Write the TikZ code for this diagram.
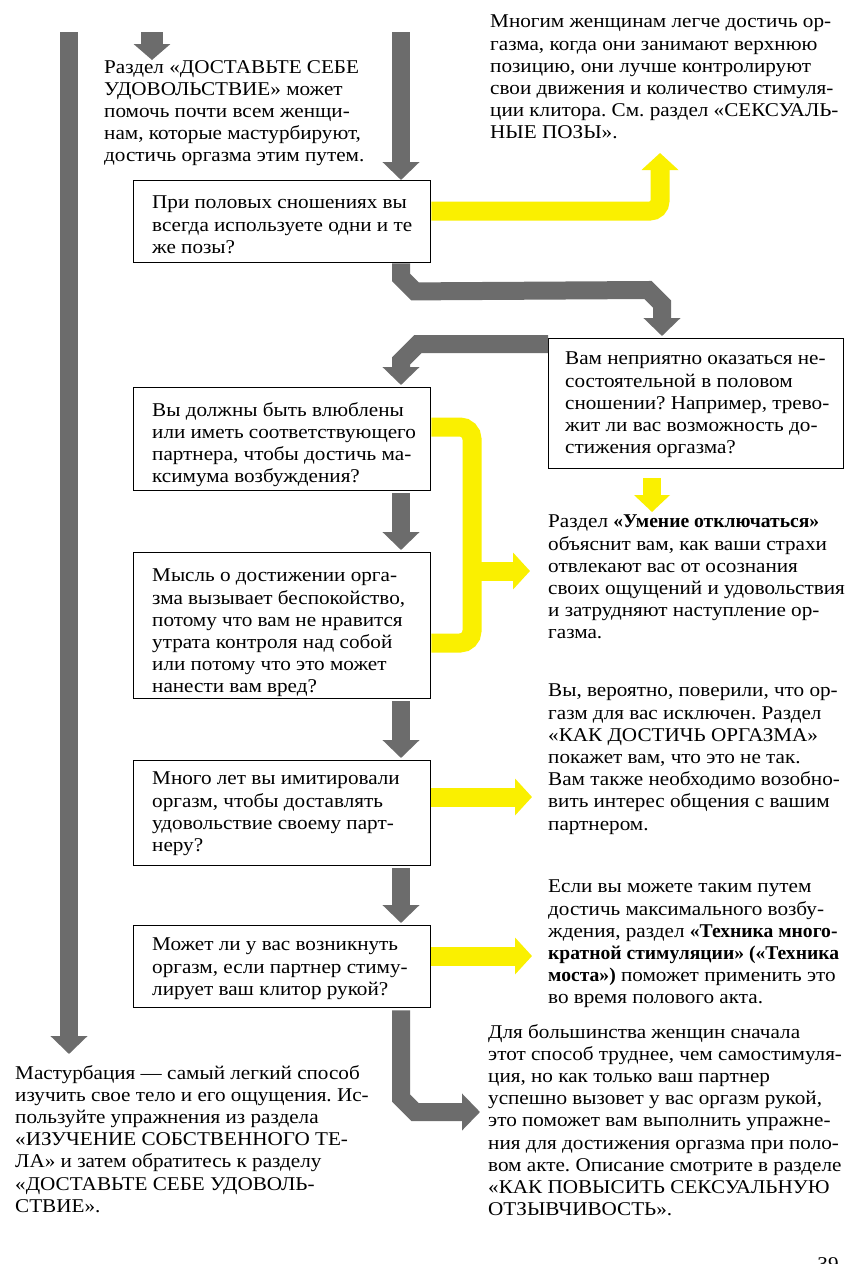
\documentclass[tikz,border=0pt]{standalone}
\usepackage{fontspec}
\setmainfont{Liberation Serif}[FakeStretch=1.085]
\newfontfamily\boldfam{Liberation Serif}[FakeStretch=1.005]
\newcommand\bt[1]{{\boldfam\bfseries #1}}
\usetikzlibrary{arrows.meta,calc}
\definecolor{arrgray}{RGB}{108,108,108}
\definecolor{ylw}{RGB}{250,240,0}
\frenchspacing
\begin{document}
\begin{tikzpicture}[x=1pt,y=-1pt,
  txt/.style={anchor=north west,inner sep=0pt,align=left,font=\fontsize{19.5}{22.2}\selectfont},
  qbox/.style={draw=black,line width=1.4pt,anchor=north west,inner sep=0pt},
  garr/.style={draw=arrgray,line width=18pt,line join=miter,-{Triangle[width=36pt,length=18pt]}},
  yarr/.style={draw=ylw,line width=19pt,rounded corners=10pt,-{Triangle[width=36pt,length=17pt]}},
  yband/.style={draw=ylw,line width=19pt,rounded corners=12pt}]
\useasboundingbox[fill=white] (0,0) rectangle (856,1264);

% boxes
\node[qbox,minimum width=297pt,minimum height=82pt] (b1) at (133,180) {};
\node[qbox,minimum width=295pt,minimum height=130pt] (b2) at (548,338) {};
\node[qbox,minimum width=297pt,minimum height=103pt] (b3) at (133,387) {};
\node[qbox,minimum width=297pt,minimum height=146pt] (b4) at (133,552) {};
\node[qbox,minimum width=297pt,minimum height=105pt] (b5) at (133,760) {};
\node[qbox,minimum width=297pt,minimum height=82pt] (b6) at (133,925) {};

% texts
\node[txt] (tl) at (104,60) {Раздел «ДОСТАВЬТЕ СЕБЕ\\УДОВОЛЬСТВИЕ» может\\помочь почти всем женщи-\\нам, которые мастурбируют,\\достичь оргазма этим путем.};
\node[txt] (tr) at (490,15) {Многим женщинам легче достичь ор-\\газма, когда они занимают верхнюю\\позицию, они лучше контролируют\\свои движения и количество стимуля-\\ции клитора. См. раздел «СЕКСУАЛЬ-\\НЫЕ ПОЗЫ».};
\node[txt] (b1t) at (152,196) {При половых сношениях вы\\всегда используете одни и те\\же позы?};
\node[txt] (b2t) at (565,352) {Вам неприятно оказаться не-\\состоятельной в половом\\сношении? Например, трево-\\жит ли вас возможность до-\\стижения оргазма?};
\node[txt] (b3t) at (152,402) {Вы должны быть влюблены\\или иметь соответствующего\\партнера, чтобы достичь ма-\\ксимума возбуждения?};
\node[txt] (b4t) at (152,569) {Мысль о достижении орга-\\зма вызывает беспокойство,\\потому что вам не нравится\\утрата контроля над собой\\или потому что это может\\нанести вам вред?};
\node[txt] (b5t) at (152,772) {Много лет вы имитировали\\оргазм, чтобы доставлять\\удовольствие своему парт-\\неру?};
\node[txt] (b6t) at (152,938) {Может ли у вас возникнуть\\оргазм, если партнер стиму-\\лирует ваш клитор рукой?};
\node[txt] (tum) at (548,515) {Раздел \bt{«Умение отключаться»}\\объяснит вам, как ваши страхи\\отвлекают вас от осознания\\своих ощущений и удовольствия\\и затрудняют наступление ор-\\газма.};
\node[txt] (tviel) at (548,684) {Вы, вероятно, поверили, что ор-\\газм для вас исключен. Раздел\\«КАК ДОСТИЧЬ ОРГАЗМА»\\покажет вам, что это не так.\\Вам также необходимо возобно-\\вить интерес общения с вашим\\партнером.};
\node[txt] (tesli) at (548,880) {Если вы можете таким путем\\достичь максимального возбу-\\ждения, раздел \bt{«Техника много-}\\\bt{кратной стимуляции» («Техника}\\\bt{моста»)} поможет применить это\\во время полового акта.};
\node[txt] (tdlya) at (488,1024) {Для большинства женщин сначала\\этот способ труднее, чем самостимуля-\\ция, но как только ваш партнер\\успешно вызовет у вас оргазм рукой,\\это поможет вам выполнить упражне-\\ния для достижения оргазма при поло-\\вом акте. Описание смотрите в разделе\\«КАК ПОВЫСИТЬ СЕКСУАЛЬНУЮ\\ОТЗЫВЧИВОСТЬ».};
\node[txt] (tmast) at (15,1065) {Мастурбация — самый легкий способ\\изучить свое тело и его ощущения. Ис-\\пользуйте упражнения из раздела\\«ИЗУЧЕНИЕ СОБСТВЕННОГО ТЕ-\\ЛА» и затем обратитесь к разделу\\«ДОСТАВЬТЕ СЕБЕ УДОВОЛЬ-\\СТВИЕ».};
\node[txt,anchor=north] (pnum) at (828,1257) {39};

% free ends
\coordinate (col) at (401,0);
\coordinate (ltop) at (69,32);
\coordinate (lend) at (69,1054);
\coordinate (stop) at (152,32);
\coordinate (ctop) at (401,32);

% gray arrows
\draw[garr] (ltop) -- (lend);
\draw[draw=arrgray,line width=22pt,-{Triangle[width=36pt,length=16pt]}] (stop) -- (tl.north -| stop);
\draw[garr] (ctop) -- (b1.north -| col);
\draw[garr] (b1.south -| col) -- ++(0,14) -- ++(14,14) -- (648,290) -- (662,304) -- ($(b2.north -| 662,0)+(0,-2)$);
\draw[garr] (b2.west |- 0,344) -- (418,344) -- (401,361) -- ($(b3.north -| col)+(0,-2)$);
\draw[garr] ($(b3.south -| col)+(0,2)$) -- ($(b4.north -| col)+(0,-2)$);
\draw[garr] ($(b4.south -| col)+(0,2)$) -- ($(b5.north -| col)+(0,-2)$);
\draw[garr] ($(b5.south -| col)+(0,2)$) -- ($(b6.north -| col)+(0,-2)$);
\draw[garr] ($(b6.south -| col)+(0,2)$) -- (401,1098) -- (415,1112) -- ($(tdlya.west |- 0,1112)+(-8,0)$);

% yellow arrows
\draw[yarr] (b1.east |- 0,211) -- (660,211) -- (660,153);
\draw[yband] (b3.east |- 0,427) -- (472,427) -- (472,643) -- (b4.east |- 0,643);
\draw[yarr,rounded corners=0pt] (472,571) -- ($(tum.west |- 0,571)+(-18,0)$);
\draw[draw=ylw,line width=18pt,-{Triangle[width=35pt,length=17pt]}] ($(b2.south -| 652,0)+(0,9)$) -- ($(tum.north -| 652,0)+(0,-3)$);
\draw[yarr] (b5.east |- 0,797) -- ($(tviel.west |- 0,797)+(-16,0)$);
\draw[yarr] (b6.east |- 0,956) -- ($(tesli.west |- 0,956)+(-16,0)$);
\end{tikzpicture}
\end{document}
